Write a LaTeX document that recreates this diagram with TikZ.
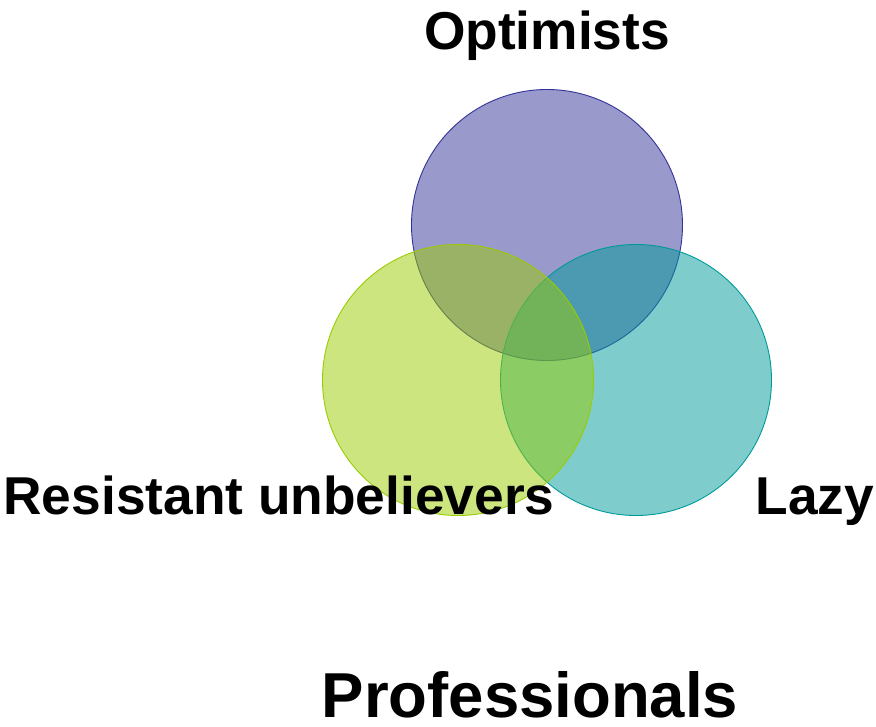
\documentclass[tikz,border=0pt]{standalone}
\usepackage{fontspec}
\setmainfont{Liberation Sans}
\usetikzlibrary{positioning}

\definecolor{optblue}{HTML}{333399}
\definecolor{resgreen}{HTML}{99CC00}
\definecolor{lazyteal}{HTML}{009999}

\tikzset{
  group/.style={circle,draw,line width=0.9pt,fill opacity=0.5,
    minimum size=271pt,inner sep=0pt},
  grouplabel/.style={font=\fontsize{53.3}{60}\selectfont\bfseries,
    inner sep=0pt,anchor=base},
}

\begin{document}
\begin{tikzpicture}[x=1pt,y=-1pt]
  \useasboundingbox (0,0) rectangle (876,727);
  % the three groups
  \node[group,draw=optblue,fill=optblue] (opt) at (547,225) {};
  \node[group,draw=lazyteal,fill=lazyteal] (lazy) at (636,380) {};
  \node[group,draw=resgreen,fill=resgreen] (res) at (458,380) {};
  % labels
  \node[grouplabel] (optlabel) at (547,50) {Optimists};
  \node[grouplabel] (reslabel) at (279,514) {Resistant unbelievers};
  \node[grouplabel] (lazylabel) at (815,514) {Lazy};
  \node[grouplabel,font=\fontsize{63.5}{72}\selectfont\bfseries]
    (prolabel) at (530,717) {Professionals};
\end{tikzpicture}
\end{document}
